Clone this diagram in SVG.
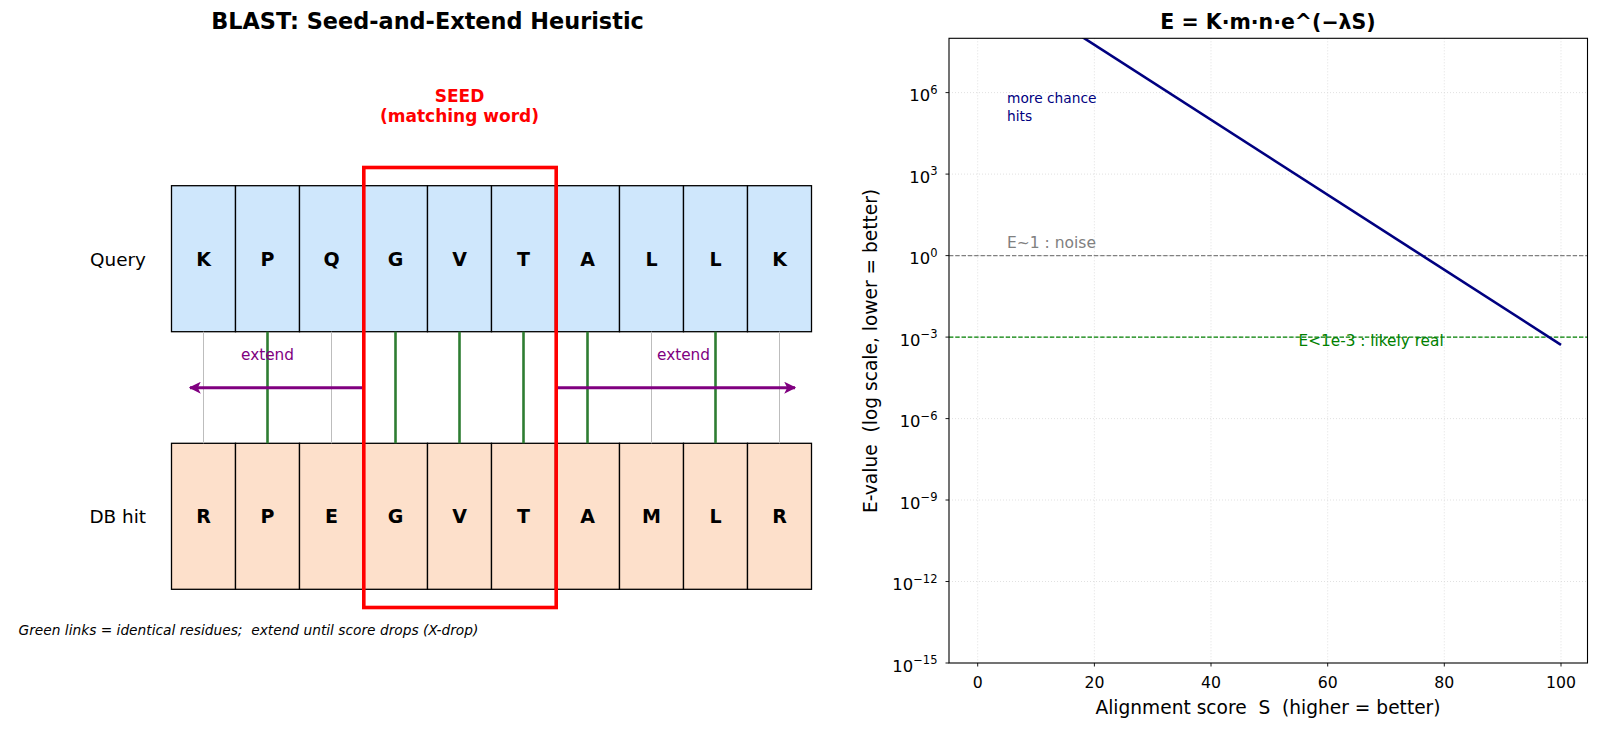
<svg xmlns="http://www.w3.org/2000/svg" width="1600" height="730" viewBox="0 0 1600 730">
<style>
text{font-family:"DejaVu Sans","Liberation Sans",sans-serif;}
.title{font-weight:bold;font-size:22.4px;text-anchor:middle;}
.cq{fill:#cfe7fc;stroke:#000;stroke-width:1.3;}
.cd{fill:#fde0cb;stroke:#000;stroke-width:1.3;}
.res{font-weight:bold;font-size:19px;text-anchor:middle;dominant-baseline:central;}
.rowlab{font-size:18.4px;text-anchor:end;dominant-baseline:central;}
.seedlab{font-weight:bold;font-size:17px;fill:#ff0000;text-anchor:middle;}
.match{stroke:#2e7d32;stroke-width:2.6;}
.mis{stroke:#bdbdbd;stroke-width:1;}
.ext{stroke:#800080;stroke-width:3;fill:none;}
.extlab{font-size:15.3px;fill:#800080;text-anchor:middle;dominant-baseline:central;}
.foot{font-size:13.75px;font-style:italic;white-space:pre;}
.grid{stroke:#d9d9d9;stroke-width:0.8;stroke-dasharray:1,2;}
.tick{stroke:#000;stroke-width:0.9;}
.tlx{font-size:15.7px;text-anchor:middle;}
.tly{font-size:16.4px;text-anchor:end;}
.sup{font-size:11.5px;}
.axlab{font-size:18.6px;text-anchor:middle;white-space:pre;}
</style>
<defs>
<marker id="ah" viewBox="0 0 10 10" refX="9" refY="5" markerWidth="4" markerHeight="4" orient="auto-start-reverse" markerUnits="strokeWidth">
<path d="M0,0 L10,5 L0,10 L2.5,5 Z" fill="#800080"/>
</marker>
<clipPath id="axclip"><rect x="949" y="38.3" width="638.5" height="624.7"/></clipPath>
</defs>
<rect width="1600" height="730" fill="#fff"/>

<text class="title" x="427.5" y="28.5">BLAST: Seed-and-Extend Heuristic</text>

<g id="seed-label">
<text class="seedlab" x="459.5" y="102">SEED</text>
<text class="seedlab" x="459.5" y="121.5">(matching word)</text>
</g>

<g id="row-labels">
<text class="rowlab" x="146" y="259">Query</text>
<text class="rowlab" x="146" y="516">DB hit</text>
</g>

<g id="query">
<g id="q0"><rect class="cq" x="171.5" y="185.7" width="64" height="146"/><text class="res" x="203.5" y="259">K</text></g>
<g id="q1"><rect class="cq" x="235.5" y="185.7" width="64" height="146"/><text class="res" x="267.5" y="259">P</text></g>
<g id="q2"><rect class="cq" x="299.5" y="185.7" width="64" height="146"/><text class="res" x="331.5" y="259">Q</text></g>
<g id="q3"><rect class="cq" x="363.5" y="185.7" width="64" height="146"/><text class="res" x="395.5" y="259">G</text></g>
<g id="q4"><rect class="cq" x="427.5" y="185.7" width="64" height="146"/><text class="res" x="459.5" y="259">V</text></g>
<g id="q5"><rect class="cq" x="491.5" y="185.7" width="64" height="146"/><text class="res" x="523.5" y="259">T</text></g>
<g id="q6"><rect class="cq" x="555.5" y="185.7" width="64" height="146"/><text class="res" x="587.5" y="259">A</text></g>
<g id="q7"><rect class="cq" x="619.5" y="185.7" width="64" height="146"/><text class="res" x="651.5" y="259">L</text></g>
<g id="q8"><rect class="cq" x="683.5" y="185.7" width="64" height="146"/><text class="res" x="715.5" y="259">L</text></g>
<g id="q9"><rect class="cq" x="747.5" y="185.7" width="64" height="146"/><text class="res" x="779.5" y="259">K</text></g>
</g>

<g id="dbhit">
<g id="d0"><rect class="cd" x="171.5" y="443.3" width="64" height="146"/><text class="res" x="203.5" y="516">R</text></g>
<g id="d1"><rect class="cd" x="235.5" y="443.3" width="64" height="146"/><text class="res" x="267.5" y="516">P</text></g>
<g id="d2"><rect class="cd" x="299.5" y="443.3" width="64" height="146"/><text class="res" x="331.5" y="516">E</text></g>
<g id="d3"><rect class="cd" x="363.5" y="443.3" width="64" height="146"/><text class="res" x="395.5" y="516">G</text></g>
<g id="d4"><rect class="cd" x="427.5" y="443.3" width="64" height="146"/><text class="res" x="459.5" y="516">V</text></g>
<g id="d5"><rect class="cd" x="491.5" y="443.3" width="64" height="146"/><text class="res" x="523.5" y="516">T</text></g>
<g id="d6"><rect class="cd" x="555.5" y="443.3" width="64" height="146"/><text class="res" x="587.5" y="516">A</text></g>
<g id="d7"><rect class="cd" x="619.5" y="443.3" width="64" height="146"/><text class="res" x="651.5" y="516">M</text></g>
<g id="d8"><rect class="cd" x="683.5" y="443.3" width="64" height="146"/><text class="res" x="715.5" y="516">L</text></g>
<g id="d9"><rect class="cd" x="747.5" y="443.3" width="64" height="146"/><text class="res" x="779.5" y="516">R</text></g>
</g>

<g id="connectors">
<line class="mis" x1="203.5" y1="331.7" x2="203.5" y2="443.3"/>
<line class="match" x1="267.5" y1="331.7" x2="267.5" y2="443.3"/>
<line class="mis" x1="331.5" y1="331.7" x2="331.5" y2="443.3"/>
<line class="match" x1="395.5" y1="331.7" x2="395.5" y2="443.3"/>
<line class="match" x1="459.5" y1="331.7" x2="459.5" y2="443.3"/>
<line class="match" x1="523.5" y1="331.7" x2="523.5" y2="443.3"/>
<line class="match" x1="587.5" y1="331.7" x2="587.5" y2="443.3"/>
<line class="mis" x1="651.5" y1="331.7" x2="651.5" y2="443.3"/>
<line class="match" x1="715.5" y1="331.7" x2="715.5" y2="443.3"/>
<line class="mis" x1="779.5" y1="331.7" x2="779.5" y2="443.3"/>
<line class="ext" x1="362" y1="387.7" x2="190" y2="387.7" marker-end="url(#ah)"/>
<line class="ext" x1="557" y1="387.7" x2="795" y2="387.7" marker-end="url(#ah)"/>
</g>

<g id="extend-labels">
<text class="extlab" x="267.5" y="355">extend</text>
<text class="extlab" x="683.5" y="355">extend</text>
</g>

<g id="seed-box">
<rect x="363.8" y="167.5" width="192.4" height="440" fill="none" stroke="#ff0000" stroke-width="3.6"/>
</g>

<text class="foot" x="18.5" y="635" xml:space="preserve">Green links = identical residues;  extend until score drops (X-drop)</text>

<g id="chart">
<g id="grid">
<line class="grid" x1="977.7" y1="38.3" x2="977.7" y2="663"/>
<line class="grid" x1="1094.4" y1="38.3" x2="1094.4" y2="663"/>
<line class="grid" x1="1211" y1="38.3" x2="1211" y2="663"/>
<line class="grid" x1="1327.7" y1="38.3" x2="1327.7" y2="663"/>
<line class="grid" x1="1444.3" y1="38.3" x2="1444.3" y2="663"/>
<line class="grid" x1="1561" y1="38.3" x2="1561" y2="663"/>
<line class="grid" x1="949" y1="92.6" x2="1587.5" y2="92.6"/>
<line class="grid" x1="949" y1="174.1" x2="1587.5" y2="174.1"/>
<line class="grid" x1="949" y1="255.6" x2="1587.5" y2="255.6"/>
<line class="grid" x1="949" y1="337.1" x2="1587.5" y2="337.1"/>
<line class="grid" x1="949" y1="418.6" x2="1587.5" y2="418.6"/>
<line class="grid" x1="949" y1="500" x2="1587.5" y2="500"/>
<line class="grid" x1="949" y1="581.5" x2="1587.5" y2="581.5"/>
</g>
<line x1="949" y1="255.6" x2="1587.5" y2="255.6" stroke="#808080" stroke-width="1.2" stroke-dasharray="4.4,1.9"/>
<line x1="949" y1="337.1" x2="1587.5" y2="337.1" stroke="#008000" stroke-width="1.2" stroke-dasharray="4.4,1.9"/>
<g clip-path="url(#axclip)">
<line x1="1082.1" y1="36.9" x2="1561" y2="344.8" stroke="#000080" stroke-width="2.6"/>
</g>
<text x="1007" y="103" font-size="13.75" fill="#000080">more chance</text>
<text x="1007" y="120.5" font-size="13.75" fill="#000080">hits</text>
<text x="1007" y="247.8" font-size="15.5" fill="#808080">E~1 : noise</text>
<text x="1298.5" y="346.3" font-size="15.3" fill="#008000">E&lt;1e-3 : likely real</text>
<rect x="949" y="38.3" width="638.5" height="624.7" fill="none" stroke="#000" stroke-width="1.1"/>
<g id="xticks">
<line class="tick" x1="977.7" y1="663" x2="977.7" y2="666.5"/>
<line class="tick" x1="1094.4" y1="663" x2="1094.4" y2="666.5"/>
<line class="tick" x1="1211" y1="663" x2="1211" y2="666.5"/>
<line class="tick" x1="1327.7" y1="663" x2="1327.7" y2="666.5"/>
<line class="tick" x1="1444.3" y1="663" x2="1444.3" y2="666.5"/>
<line class="tick" x1="1561" y1="663" x2="1561" y2="666.5"/>
<text class="tlx" x="977.7" y="688.3">0</text>
<text class="tlx" x="1094.4" y="688.3">20</text>
<text class="tlx" x="1211" y="688.3">40</text>
<text class="tlx" x="1327.7" y="688.3">60</text>
<text class="tlx" x="1444.3" y="688.3">80</text>
<text class="tlx" x="1561" y="688.3">100</text>
</g>
<g id="yticks">
<line class="tick" x1="945.5" y1="92.6" x2="949" y2="92.6"/>
<line class="tick" x1="945.5" y1="174.1" x2="949" y2="174.1"/>
<line class="tick" x1="945.5" y1="255.6" x2="949" y2="255.6"/>
<line class="tick" x1="945.5" y1="337.1" x2="949" y2="337.1"/>
<line class="tick" x1="945.5" y1="418.6" x2="949" y2="418.6"/>
<line class="tick" x1="945.5" y1="500" x2="949" y2="500"/>
<line class="tick" x1="945.5" y1="581.5" x2="949" y2="581.5"/>
<line class="tick" x1="945.5" y1="663" x2="949" y2="663"/>
<text class="tly" x="937.5" y="101.3">10<tspan class="sup" dy="-7.7">6</tspan></text>
<text class="tly" x="937.5" y="182.8">10<tspan class="sup" dy="-7.7">3</tspan></text>
<text class="tly" x="937.5" y="264.3">10<tspan class="sup" dy="-7.7">0</tspan></text>
<text class="tly" x="937.5" y="345.8">10<tspan class="sup" dy="-7.7">−3</tspan></text>
<text class="tly" x="937.5" y="427.3">10<tspan class="sup" dy="-7.7">−6</tspan></text>
<text class="tly" x="937.5" y="508.7">10<tspan class="sup" dy="-7.7">−9</tspan></text>
<text class="tly" x="937.5" y="590.2">10<tspan class="sup" dy="-7.7">−12</tspan></text>
<text class="tly" x="937.5" y="671.7">10<tspan class="sup" dy="-7.7">−15</tspan></text>
</g>
<text class="axlab" x="1268" y="713.5" xml:space="preserve">Alignment score  S  (higher = better)</text>
<text class="axlab" transform="translate(877,351) rotate(-90)" x="0" y="0" xml:space="preserve">E-value  (log scale, lower = better)</text>
<text x="1268" y="29" font-size="20.5" font-weight="bold" text-anchor="middle">E = K·m·n·e^(−λS)</text>
</g>
</svg>
